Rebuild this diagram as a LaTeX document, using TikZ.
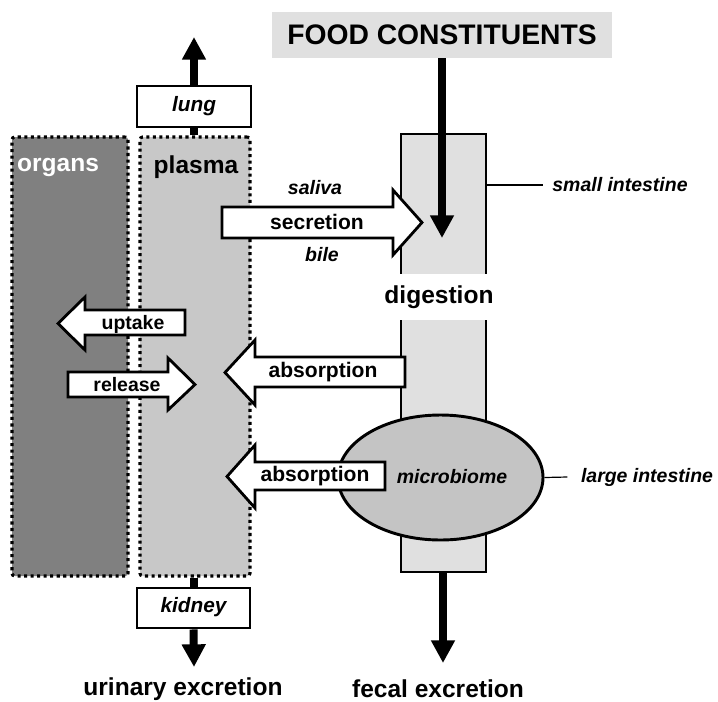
\documentclass[tikz,border=0pt]{standalone}
\usepackage{fontspec}
\setmainfont{Liberation Sans}
\usetikzlibrary{arrows.meta,shapes.geometric}
\definecolor{orgc}{RGB}{128,128,128}
\definecolor{plasc}{RGB}{200,200,200}
\definecolor{tubec}{RGB}{224,224,224}
\definecolor{foodc}{RGB}{224,224,224}
\definecolor{ellc}{RGB}{196,196,196}
\begin{document}
\begin{tikzpicture}[x=0.75pt,y=-0.75pt,
  dotbox/.style={draw=black, line width=2.3pt, dash pattern=on 2.3pt off 2.6pt, rounded corners=2pt, inner sep=0pt},
  solidbox/.style={draw=black, line width=2.2pt, fill=white, inner sep=0pt},
  tubebox/.style={draw=black, line width=2.2pt, fill=tubec, inner sep=0pt},
  blk/.style={draw=black, line width=2.1pt, fill=white, line join=miter, miter limit=10},
  flow/.style={line width=6pt, -{Triangle[width=17pt,length=17pt]}},
  flowline/.style={line width=6pt},
  thinline/.style={line width=0.9pt},
  biglbl/.style={font=\fontsize{18.4}{20}\selectfont\bfseries, inner sep=0pt},
  midlbl/.style={font=\fontsize{15.8}{18}\selectfont\bfseries, inner sep=0pt},
  smlbl/.style={font=\fontsize{14.6}{17}\selectfont\bfseries, inner sep=0pt},
  itlbl/.style={font=\fontsize{14.6}{17}\selectfont\bfseries\itshape, inner sep=0pt},
  itmid/.style={font=\fontsize{15.6}{18}\selectfont\bfseries\itshape, inner sep=0pt}
]
\useasboundingbox (0,0) rectangle (718,701);

% compartments
\node[dotbox, fill=orgc, minimum width=116*0.75pt, minimum height=439*0.75pt] (organs) at (70,356.5) {};
\node[dotbox, fill=plasc, minimum width=110*0.75pt, minimum height=439*0.75pt] (plasma) at (195,356.5) {};
\node[biglbl, text=white] (organslbl) at (58,167) {organs};
\node[biglbl] (plasmalbl) at (196,167) {plasma};

% intestine tube
\node[tubebox, minimum width=85*0.75pt, minimum height=438*0.75pt] (tube) at (443.5,353) {};
\node[biglbl, fill=white, minimum height=46*0.75pt, inner xsep=3pt] (digest) at (439,297) {digestion};
\node[ellipse, draw=black, line width=2.2pt, fill=ellc, minimum width=205*0.75pt, minimum height=125*0.75pt, inner sep=0pt] (micro) at (440.5,477.5) {};
\node[itlbl] (microlbl) at (452,477) {microbiome};

% food
\node[fill=foodc, minimum width=340*0.75pt, minimum height=46*0.75pt, inner sep=0pt,
      font=\fontsize{21.2}{24}\selectfont\bfseries] (food) at (442,35) {FOOD CONSTITUENTS};
\coordinate (foodtip) at (442,238);
\draw[flow] (food.south) -- (foodtip);

% block arrows
\draw[blk] (222,207) -- (393,207) -- (393,190) -- (422,222.5) -- (393,255) -- (393,238) -- (222,238) -- cycle;
\node[midlbl] (secr) at (317,222) {secretion};
\node[itlbl] (saliva) at (315,188) {saliva};
\node[itlbl] (bile) at (322,255) {bile};

\draw[blk] (185,310) -- (85,310) -- (85,297) -- (58,323.5) -- (85,350) -- (85,335) -- (185,335) -- cycle;
\node[smlbl] (uptake) at (133,324) {uptake};

\draw[blk] (68,372) -- (168,372) -- (168,358) -- (195,384.5) -- (168,410) -- (168,397) -- (68,397) -- cycle;
\node[smlbl] (release) at (127,385) {release};

\draw[blk] (405,357) -- (255,357) -- (255,340) -- (225,372.5) -- (255,405) -- (255,387) -- (405,387) -- cycle;
\node[midlbl] (abs1) at (323,372) {absorption};

\draw[blk] (385,462) -- (255,462) -- (255,445) -- (227,476.5) -- (255,508) -- (255,490) -- (385,490) -- cycle;
\node[midlbl] (abs2) at (315,476) {absorption};

% intestine labels
\node[itlbl] (smallint) at (620,185) {small intestine};
\draw[thinline] (tube.east |- smallint.west) -- ([xshift=-7pt]smallint.west);
\node[itlbl] (largeint) at (647,477) {large intestine};
\draw[thinline] (micro.east) -- ([xshift=-10pt]largeint.west);

% lung and kidney
\node[solidbox, minimum width=114*0.75pt, minimum height=41*0.75pt] (lung) at (194,106.5) {};
\node[itmid] (lunglbl) at (194,106) {lung};
\coordinate (lungtip) at (194,37);
\draw[flowline] (plasma.north -| lung.south) -- (lung.south);
\draw[flow] (lung.north) -- (lungtip);

\node[solidbox, minimum width=113*0.75pt, minimum height=40*0.75pt] (kidney) at (193.5,608) {};
\node[itmid] (kidneylbl) at (193.5,607) {kidney};
\coordinate (kidneytip) at (194,667);
\draw[flowline] (plasma.south -| kidney.north) -- (kidney.north);
\draw[flow] (kidney.south) -- (kidneytip);

% fecal
\coordinate (fecaltip) at (443,663);
\draw[flow] (tube.south -| fecaltip) -- (fecaltip);

% bottom labels
\node[biglbl] (urinary) at (183,689) {urinary excretion};
\node[biglbl] (fecal) at (438,689) {fecal excretion};
\end{tikzpicture}
\end{document}
